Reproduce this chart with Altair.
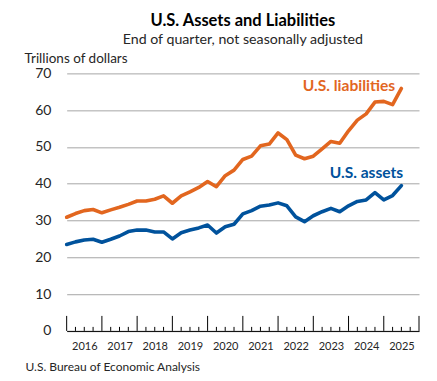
import json
import altair as alt
import pandas as pd

# ---------------- data ----------------
quarters = [
    "2015 Q4",
    "2016 Q1", "2016 Q2", "2016 Q3", "2016 Q4",
    "2017 Q1", "2017 Q2", "2017 Q3", "2017 Q4",
    "2018 Q1", "2018 Q2", "2018 Q3", "2018 Q4",
    "2019 Q1", "2019 Q2", "2019 Q3", "2019 Q4",
    "2020 Q1", "2020 Q2", "2020 Q3", "2020 Q4",
    "2021 Q1", "2021 Q2", "2021 Q3", "2021 Q4",
    "2022 Q1", "2022 Q2", "2022 Q3", "2022 Q4",
    "2023 Q1", "2023 Q2", "2023 Q3", "2023 Q4",
    "2024 Q1", "2024 Q2", "2024 Q3", "2024 Q4",
    "2025 Q1", "2025 Q2",
]
liabilities = [
    30.9,
    31.9, 32.7, 33.0, 32.1,
    32.9, 33.6, 34.4, 35.3,
    35.3, 35.8, 36.7, 34.7,
    36.7, 37.8, 39.0, 40.6,
    39.2, 42.2, 43.7, 46.6,
    47.5, 50.3, 50.8, 53.8,
    52.0, 47.8, 46.8, 47.5,
    49.5, 51.5, 51.0, 54.4,
    57.3, 59.0, 62.2, 62.4,
    61.5, 65.9,
]
assets = [
    23.5,
    24.2, 24.7, 24.9, 24.1,
    24.9, 25.8, 27.0, 27.4,
    27.4, 26.9, 26.9, 25.0,
    26.7, 27.4, 28.0, 28.8,
    26.6, 28.3, 29.0, 31.8,
    32.7, 33.9, 34.2, 34.8,
    34.0, 31.0, 29.7, 31.3,
    32.4, 33.3, 32.4, 34.0,
    35.2, 35.6, 37.6, 35.6,
    36.8, 39.5,
]
years = ["2016", "2017", "2018", "2019", "2020", "2021", "2022", "2023", "2024", "2025"]
series_names = ["U.S. liabilities", "U.S. assets"]
label_x = [37.3, 38.2]      # right edge of in-chart labels (quarter index)
label_y = [65.1, 41.6]      # baseline of in-chart labels (trillions)
y_ticks = [0, 10, 20, 30, 40, 50, 60, 70]

# ---------------- styling ----------------
W, H = 352.6, 257.7
FONT = "Lato"
ORANGE = "#E2661F"
BLUE = "#00529C"
n_slots = 4 * len(years)

rows = []
for i, q in enumerate(quarters):
    rows.append({"i": i, "quarter": q, "series": series_names[0], "value": liabilities[i]})
    rows.append({"i": i, "quarter": q, "series": series_names[1], "value": assets[i]})
df = pd.DataFrame(rows)

x_scale = alt.Scale(domain=[0, n_slots], nice=False, zero=False)
y_scale = alt.Scale(domain=[0, 70], nice=False)
color_scale = alt.Scale(domain=series_names, range=[ORANGE, BLUE])

year_pos = [4 * j + 2 for j in range(len(years))]
label_expr = f"{json.dumps(years)}[floor((datum.value - 2) / 4)]"

x_axis = alt.Axis(
    values=year_pos,
    labelExpr=label_expr,
    ticks=False,
    grid=False,
    domain=True,
    domainColor="black",
    domainWidth=1,
    labelFont=FONT,
    labelFontSize=11,
    labelColor="#262626",
    labelPadding=10,
    labelFlush=False,
    title="U.S. Bureau of Economic Analysis",
    titleFont=FONT,
    titleFontSize=12,
    titleFontWeight="normal",
    titleColor="#262626",
    titleAnchor="start",
    titleAlign="left",
    titleBaseline="alphabetic",
    titleX=-41.7,
    titleY=40,
)
y_axis = alt.Axis(
    values=y_ticks,
    grid=True,
    gridColor="#A6A6A6",
    gridWidth=1,
    ticks=False,
    domain=False,
    labelFont=FONT,
    labelFontSize=14,
    labelColor="#262626",
    labelPadding=15.7,
    title="Trillions of dollars",
    titleFont=FONT,
    titleFontSize=13.5,
    titleFontWeight="normal",
    titleColor="#262626",
    titleAngle=0,
    titleAlign="left",
    titleBaseline="alphabetic",
    titleX=-42.7,
    titleY=-11.3,
)

lines = alt.Chart(df).mark_line(strokeWidth=3.6, strokeJoin="round", strokeCap="round").encode(
    x=alt.X("i:Q", scale=x_scale, axis=x_axis),
    y=alt.Y("value:Q", scale=y_scale, axis=y_axis),
    color=alt.Color("series:N", scale=color_scale, legend=None),
    detail="series:N",
)

major_df = pd.DataFrame({"t": list(range(0, n_slots + 1, 4))})
minor_df = pd.DataFrame({"t": [t for t in range(n_slots + 1) if t % 4]})

major = alt.Chart(major_df).mark_rule(color="black", strokeWidth=1).encode(
    x=alt.X("t:Q", scale=x_scale, axis=x_axis),
    y=alt.value(H - 15),
    y2=alt.value(H),
)
minor = alt.Chart(minor_df).mark_rule(color="black", strokeWidth=1).encode(
    x=alt.X("t:Q", scale=x_scale, axis=x_axis),
    y=alt.value(H - 4),
    y2=alt.value(H),
)

lab_df = pd.DataFrame({"series": series_names, "x": label_x, "y": label_y})
labels = alt.Chart(lab_df).mark_text(
    align="right", baseline="alphabetic", font=FONT, fontWeight="bold", fontSize=15.6
).encode(
    x=alt.X("x:Q", scale=x_scale, axis=x_axis),
    y=alt.Y("y:Q", scale=y_scale, axis=y_axis),
    text="series:N",
    color=alt.Color("series:N", scale=color_scale, legend=None),
)

chart = alt.layer(lines, major, minor, labels).properties(
    width=W,
    height=H,
    autosize=alt.AutoSizeParams(type="none"),
    padding={"left": 58.7, "top": 65.3, "right": 10, "bottom": 42},
    background="white",
    title=alt.TitleParams(
        text="U.S. Assets and Liabilities",
        subtitle="End of quarter, not seasonally adjusted",
        font=FONT,
        fontSize=16.5,
        fontWeight="bold",
        color="black",
        subtitleFont=FONT,
        subtitleFontSize=14.2,
        subtitleColor="#262626",
        anchor="middle",
        offset=4,
        subtitlePadding=3,
    ),
).configure_view(stroke=None)

chart.save("out.html", embed_options={"renderer": "svg", "actions": False})
